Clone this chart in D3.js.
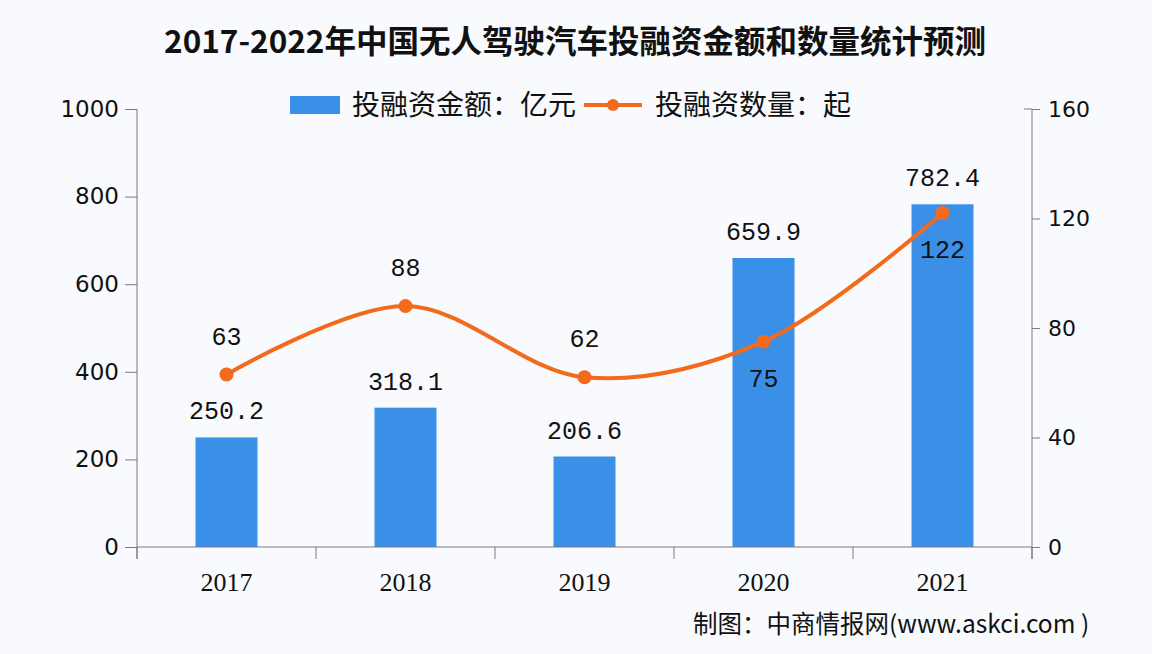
<!DOCTYPE html>
<html>
<head>
<meta charset="utf-8">
<script src="https://cdn.jsdelivr.net/npm/d3@7"></script>
<style>
  body { margin:0; background:#f8fafd; }
  svg { display:block; }
</style>
</head>
<body>
<script>
  const years   = ["2017", "2018", "2019", "2020", "2021"];
  const amount  = [250.2, 318.1, 206.6, 659.9, 782.4];   // 投融资金额：亿元
  const counts  = [63, 88, 62, 75, 122];                 // 投融资数量：起
  const leftTicks  = [0, 200, 400, 600, 800, 1000];
  const rightTicks = [0, 40, 80, 120, 160];
  // which line labels sit below their point
  const countBelow = [false, false, false, true, true];

  const W = 1152, H = 654;
  const margin = {top:109, right:120, bottom:107, left:137};
  const width  = W - margin.left - margin.right;
  const height = H - margin.top - margin.bottom;

  const barColor  = "#3a8fe7";
  const lineColor = "#f36a1c";
  const axisColor = "#7d7689";
  const cjk = "'Noto Sans CJK SC', sans-serif";
  const numFont = "'Liberation Mono', 'DejaVu Sans Mono', monospace";

  const svg = d3.select("body").append("svg")
      .attr("width", W).attr("height", H);

  svg.append("rect").attr("width", W).attr("height", H).attr("fill", "#f8fafd");

  // title
  svg.append("text")
      .attr("x", 575).attr("y", 53)
      .attr("text-anchor", "middle")
      .style("font-family", cjk).style("font-weight", "bold").style("font-size", "31.5px")
      .attr("fill", "#111")
      .text("2017-2022年中国无人驾驶汽车投融资金额和数量统计预测");

  const g = svg.append("g").attr("transform", `translate(${margin.left},${margin.top})`);

  const x = d3.scaleBand().domain(years).range([0, width]).paddingInner(0).paddingOuter(0);
  const yL = d3.scaleLinear().domain([0, 1000]).range([height, 0]);
  const yR = d3.scaleLinear().domain([0, 160]).range([height, 0]);
  const barW = 62;

  // bars
  g.selectAll("rect.bar").data(amount).enter().append("rect")
      .attr("class", "bar")
      .attr("x", (d,i) => x(years[i]) + x.bandwidth()/2 - barW/2)
      .attr("y", d => yL(d))
      .attr("width", barW)
      .attr("height", d => height - yL(d))
      .attr("fill", barColor);

  g.selectAll("text.barlab").data(amount).enter().append("text")
      .attr("class", "barlab")
      .attr("x", (d,i) => x(years[i]) + x.bandwidth()/2)
      .attr("y", d => yL(d) - 18)
      .attr("text-anchor", "middle")
      .style("font-family", numFont).style("font-size", "25px")
      .attr("fill", "#111")
      .text(d => d3.format(".1f")(d));

  // line
  const pts = counts.map((d,i) => [x(years[i]) + x.bandwidth()/2, yR(d)]);
  g.append("path")
      .attr("d", d3.line().curve(d3.curveCatmullRom.alpha(0.5))(pts))
      .attr("fill", "none")
      .attr("stroke", lineColor)
      .attr("stroke-width", 4);

  g.selectAll("circle.pt").data(pts).enter().append("circle")
      .attr("cx", d => d[0]).attr("cy", d => d[1]).attr("r", 7)
      .attr("fill", lineColor);

  g.selectAll("text.cntlab").data(counts).enter().append("text")
      .attr("x", (d,i) => pts[i][0])
      .attr("y", (d,i) => countBelow[i] ? pts[i][1] + 45 : pts[i][1] - 30)
      .attr("text-anchor", "middle")
      .style("font-family", numFont).style("font-size", "25px")
      .attr("fill", "#111")
      .text(d => d);

  // axes
  const axL = g.append("g")
      .call(d3.axisLeft(yL).tickValues(leftTicks).tickFormat(d3.format("d")).tickSize(12).tickPadding(6));
  const axR = g.append("g").attr("transform", `translate(${width},0)`)
      .call(d3.axisRight(yR).tickValues(rightTicks).tickSize(8).tickPadding(8));
  const axX = g.append("g").attr("transform", `translate(0,${height})`)
      .call(d3.axisBottom(x).tickSize(0).tickPadding(26));

  // x ticks at band boundaries
  g.append("g").selectAll("line").data(d3.range(years.length + 1)).enter().append("line")
      .attr("x1", i => i * x.bandwidth()).attr("x2", i => i * x.bandwidth())
      .attr("y1", height).attr("y2", height + 12)
      .attr("stroke", axisColor);

  [axL, axR, axX].forEach(a => {
    a.selectAll("path.domain").attr("stroke", axisColor);
    a.selectAll(".tick line").attr("stroke", axisColor);
  });
  // vertical axes run slightly past the baseline
  axL.select("path.domain").attr("d", `M0,0V${height + 12}`);
  axR.select("path.domain").attr("d", `M-8,0H0V${height + 12}`).attr("fill", "none");
  axX.select("path.domain").attr("d", `M0,0H${width}`);

  axL.selectAll("text").style("font-family", "'DejaVu Sans', sans-serif").style("font-size", "23px").attr("fill", "#111");
  axR.selectAll("text").style("font-family", "'DejaVu Sans', sans-serif").style("font-size", "22px").attr("fill", "#111");
  axX.selectAll("text").style("font-family", "'Liberation Serif', serif").style("font-size", "26px").attr("fill", "#111");

  // legend
  const lg = svg.append("g");
  lg.append("rect").attr("x", 290).attr("y", 96).attr("width", 50).attr("height", 18).attr("fill", barColor);
  lg.append("text").attr("x", 352).attr("y", 115)
      .style("font-family", cjk).style("font-size", "28px").attr("fill", "#111")
      .text("投融资金额：亿元");
  lg.append("line").attr("x1", 584).attr("x2", 642).attr("y1", 105).attr("y2", 105)
      .attr("stroke", lineColor).attr("stroke-width", 4);
  lg.append("circle").attr("cx", 613).attr("cy", 105).attr("r", 6).attr("fill", lineColor);
  lg.append("text").attr("x", 655).attr("y", 115)
      .style("font-family", cjk).style("font-size", "28px").attr("fill", "#111")
      .text("投融资数量：起");

  // source
  svg.append("text").attr("x", 693).attr("y", 633)
      .style("font-family", cjk).style("font-size", "24.5px").attr("fill", "#111")
      .text("制图：中商情报网(www.askci.com )");
</script>
</body>
</html>
